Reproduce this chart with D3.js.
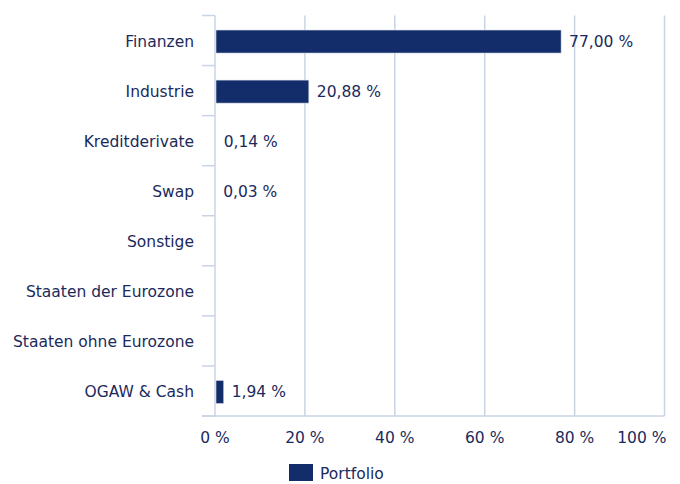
<!DOCTYPE html>
<html><head><meta charset="utf-8">
<script src="https://cdn.jsdelivr.net/npm/d3@7"></script>
<style>body{margin:0;background:#fff}svg{display:block}text{font-family:"DejaVu Sans",Verdana,sans-serif;fill:#1b2a5c}</style>
</head><body>
<svg id="c" width="680" height="484"></svg>
<script>
const categories = ["Finanzen","Industrie","Kreditderivate","Swap","Sonstige","Staaten der Eurozone","Staaten ohne Eurozone","OGAW & Cash"];
const values = [77.00, 20.88, 0.14, 0.03, 0, 0, 0, 1.94];
const xTicks = [0,20,40,60,80,100];
const seriesName = "Portfolio";

const svg = d3.select("#c");
const m = {l:215, r:664.5, t:15.5, b:416};
const fs = "15.5px";
const x = d3.scaleLinear().domain([0,100]).range([m.l, m.r]);
const y = d3.scaleBand().domain(categories).range([m.t+1, m.b+1]).paddingInner(0.54).paddingOuter(0.27);
const grid = "#c9d4e3", navy = "#122d69";
const fmt = v => v.toFixed(2).replace(".", ",") + " %";

// gridlines
svg.append("g").selectAll("line").data(xTicks.slice(1)).join("line")
  .attr("x1", d=>x(d)).attr("x2", d=>x(d)).attr("y1", m.t).attr("y2", m.b)
  .attr("stroke", grid).attr("stroke-width", 1.5);

// left axis line & category ticks
const bounds = d3.range(categories.length+1).map(i => m.t + i*(m.b-m.t)/categories.length);
svg.append("line").attr("x1", m.l).attr("x2", m.l).attr("y1", m.t).attr("y2", m.b).attr("stroke", grid).attr("stroke-width",1.5);
svg.append("g").selectAll("line").data(bounds).join("line")
  .attr("x1", m.l-13).attr("x2", m.l).attr("y1", d=>d).attr("y2", d=>d)
  .attr("stroke", grid).attr("stroke-width", 1.5);
svg.append("line").attr("x1", m.l-13).attr("x2", m.r).attr("y1", m.b).attr("y2", m.b).attr("stroke", grid).attr("stroke-width",1.5);

// category labels
svg.append("g").selectAll("text").data(categories).join("text")
  .attr("x", m.l-21).attr("y", d=>y(d)+y.bandwidth()/2).attr("dy","0.35em")
  .attr("text-anchor","end").attr("font-size",fs).text(d=>d);

// x tick labels
svg.append("g").selectAll("text").data(xTicks).join("text")
  .attr("x", (d,i)=> i===xTicks.length-1 ? m.r+2 : x(d)).attr("y", 438).attr("dy","0.35em")
  .attr("text-anchor",(d,i)=> i===xTicks.length-1 ? "end" : "middle").attr("font-size",fs).text(d=>d+" %");

// bars
svg.append("g").selectAll("rect").data(values).join("rect")
  .attr("x", x(0)+1).attr("y", (d,i)=>y(categories[i]))
  .attr("width", d=>Math.max(0, x(d)-x(0)-1)).attr("height", y.bandwidth())
  .attr("fill", navy).attr("stroke", "#d7deea").attr("stroke-width", 0.6);

// value labels
svg.append("g").selectAll("text").data(values.map((v,i)=>({v,c:categories[i]})).filter(d=>d.v>0)).join("text")
  .attr("x", d=>x(d.v)+8).attr("y", d=>y(d.c)+y.bandwidth()/2).attr("dy","0.35em")
  .attr("font-size",fs).text(d=>fmt(d.v));

// legend
const lg = svg.append("g");
lg.append("rect").attr("x",289).attr("y",464).attr("width",24).attr("height",17).attr("fill",navy);
lg.append("text").attr("x",320).attr("y",474).attr("dy","0.35em").attr("font-size",fs).text(seriesName);
</script>
</body></html>
